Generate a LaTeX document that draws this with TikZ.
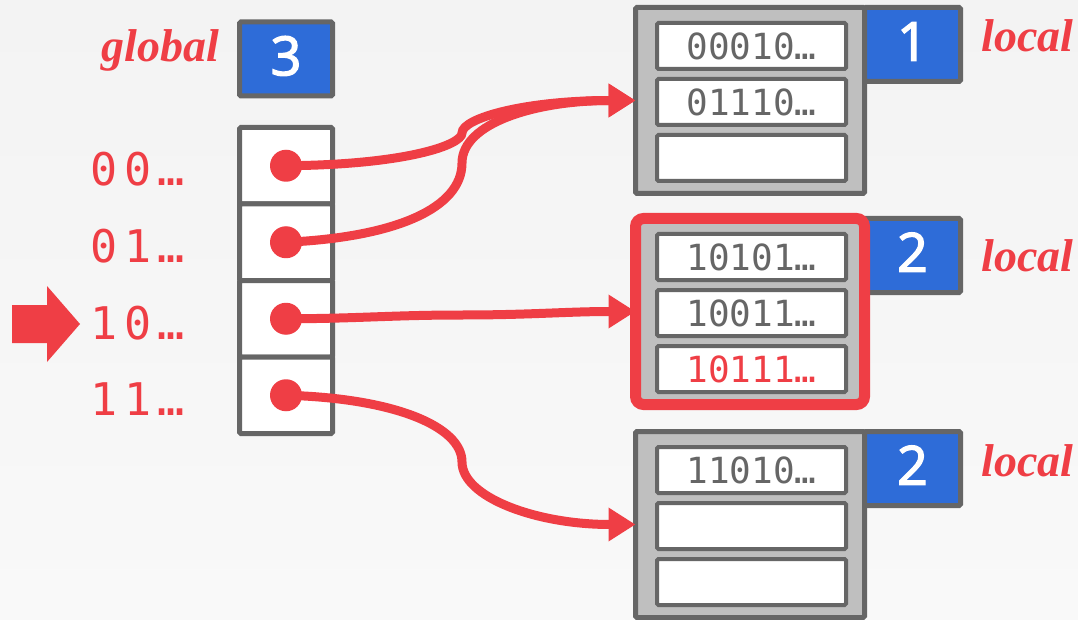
\documentclass[tikz,border=0pt]{standalone}
\usepackage{fontspec}
\usepackage{tikz}
\usetikzlibrary{arrows.meta, positioning}
\definecolor{HashRed}{RGB}{239,62,69}
\definecolor{DepthBlue}{RGB}{46,108,216}
\definecolor{BorderGray}{RGB}{102,102,102}
\definecolor{BucketGray}{RGB}{191,191,191}
\definecolor{PageTop}{RGB}{243,243,243}
\definecolor{PageBottom}{RGB}{249,249,249}
\newfontfamily\slotfont{DejaVu Sans Mono}
\newfontfamily\prefixfont{DejaVu Sans Mono}[LetterSpace=15]
\newfontfamily\depthfont{Open Sans}[FakeBold=2.5]
\newfontfamily\tagfont{Liberation Serif}

\begin{document}
\begin{tikzpicture}[x=1pt, y=-1pt,
  hashbox/.style={draw=BorderGray, line width=5pt, rounded corners=1.5pt,
              inner sep=0pt, outer sep=0pt},
  depthbox/.style={hashbox, fill=DepthBlue, minimum width=96pt, minimum height=74pt,
                   text=white, text height=38.5pt, text depth=6pt,
                   font=\depthfont\fontsize{54}{54}\selectfont},
  dircell/.style={hashbox, fill=white, minimum width=93pt, minimum height=76.5pt},
  bucketbox/.style={hashbox, fill=BucketGray, minimum width=229pt, minimum height=186pt},
  keyslot/.style={draw=BorderGray, line width=4pt, rounded corners=1.5pt, fill=white,
               minimum width=189pt, minimum height=46pt, inner sep=0pt, outer sep=0pt,
               text=BorderGray, font=\slotfont\fontsize{36}{36}\selectfont},
  depthtag/.style={text=HashRed, inner sep=0pt,
              font=\tagfont\bfseries\itshape\fontsize{46}{46}\selectfont},
  prefixlabel/.style={text=HashRed, inner sep=0pt, anchor=base west,
                 font=\prefixfont\fontsize{45}{45}\selectfont},
  ptrdot/.style={circle, fill=HashRed, minimum size=32pt, inner sep=0pt},
  ptr/.style={HashRed, line width=9pt, -{Triangle[length=27pt, width=32pt]}}
]
% Page
\fill[top color=PageTop, bottom color=PageBottom] (0,0) rectangle (1078,620);
\useasboundingbox (0,0) rectangle (1078,620);

% Global depth
\node[depthtag, anchor=base east] (globaltag) at (219,62) {global};
\node[depthbox, minimum width=93pt] (gd) at (286,59) {3};

% Directory slots
\foreach \i/\bits in {0/00, 1/01, 2/10, 3/11}{
  \node[dircell] (c\i) at (286,{165.75+76.5*\i}) {};
  \node[ptrdot] (d\i) at (c\i) {};
  \node[prefixlabel] (p\i) at (90,{186+76.5*\i}) {\bits…};
}

% Lookup marker
\fill[HashRed] (12,305) -- (47,305) -- (47,286) -- (80,324)
  -- (47,362) -- (47,343) -- (12,343) -- cycle;

% Buckets: {number, top, local depth, baseline of tag, keys}
\foreach \b/\ytop/\ld/\ybase/\ka/\kb/\kc in {
    1/5/1/52/00010…/01110…/{},
    2/216/2/272/10101…/10011…/{\color{HashRed}10111…},
    3/429/2/476/11010…/{}/{}}{
  \node[bucketbox] (b\b) at (750,{\ytop+95.5}) {};
  \node[depthbox, anchor=north west] (ld\b) at (b\b.north east) {\ld};
  \node[depthtag, anchor=base west] (lt\b) at (981,\ybase) {local};
  \node[keyslot] (s\b a) at (751.5,{\ytop+41}) {\ka};
  \node[keyslot] (s\b b) at (751.5,{\ytop+97}) {\kb};
  \node[keyslot] (s\b c) at (751.5,{\ytop+153}) {\kc};
}

% Highlighted bucket
\draw[HashRed, line width=11pt, rounded corners=8pt]
  (b2.north west) rectangle (b2.south east);

% Pointers
\coordinate (m0) at (462,133);
\coordinate (m1) at (462,163);
\coordinate (m2) at (462,315);
\coordinate (m3) at (462,462);

\draw[ptr] (d0.center) .. controls +(120,-1) and +(0,12) .. (m0)
  .. controls +(0,-15) and +(-110,0) .. (b1.west);
\draw[ptr] (d1.center) .. controls +(110,-5) and +(0,45) .. (m1)
  .. controls +(0,-40) and +(-100,0) .. (b1.west);
\draw[ptr] (d2.center) to[out=0, in=180] (m2) to[out=0, in=180] (b2.west);
\draw[ptr] (d3.center) .. controls +(110,3) and +(0,-35) .. (m3)
  .. controls +(0,35) and +(-100,0) .. (b3.west);

\end{tikzpicture}
\end{document}
